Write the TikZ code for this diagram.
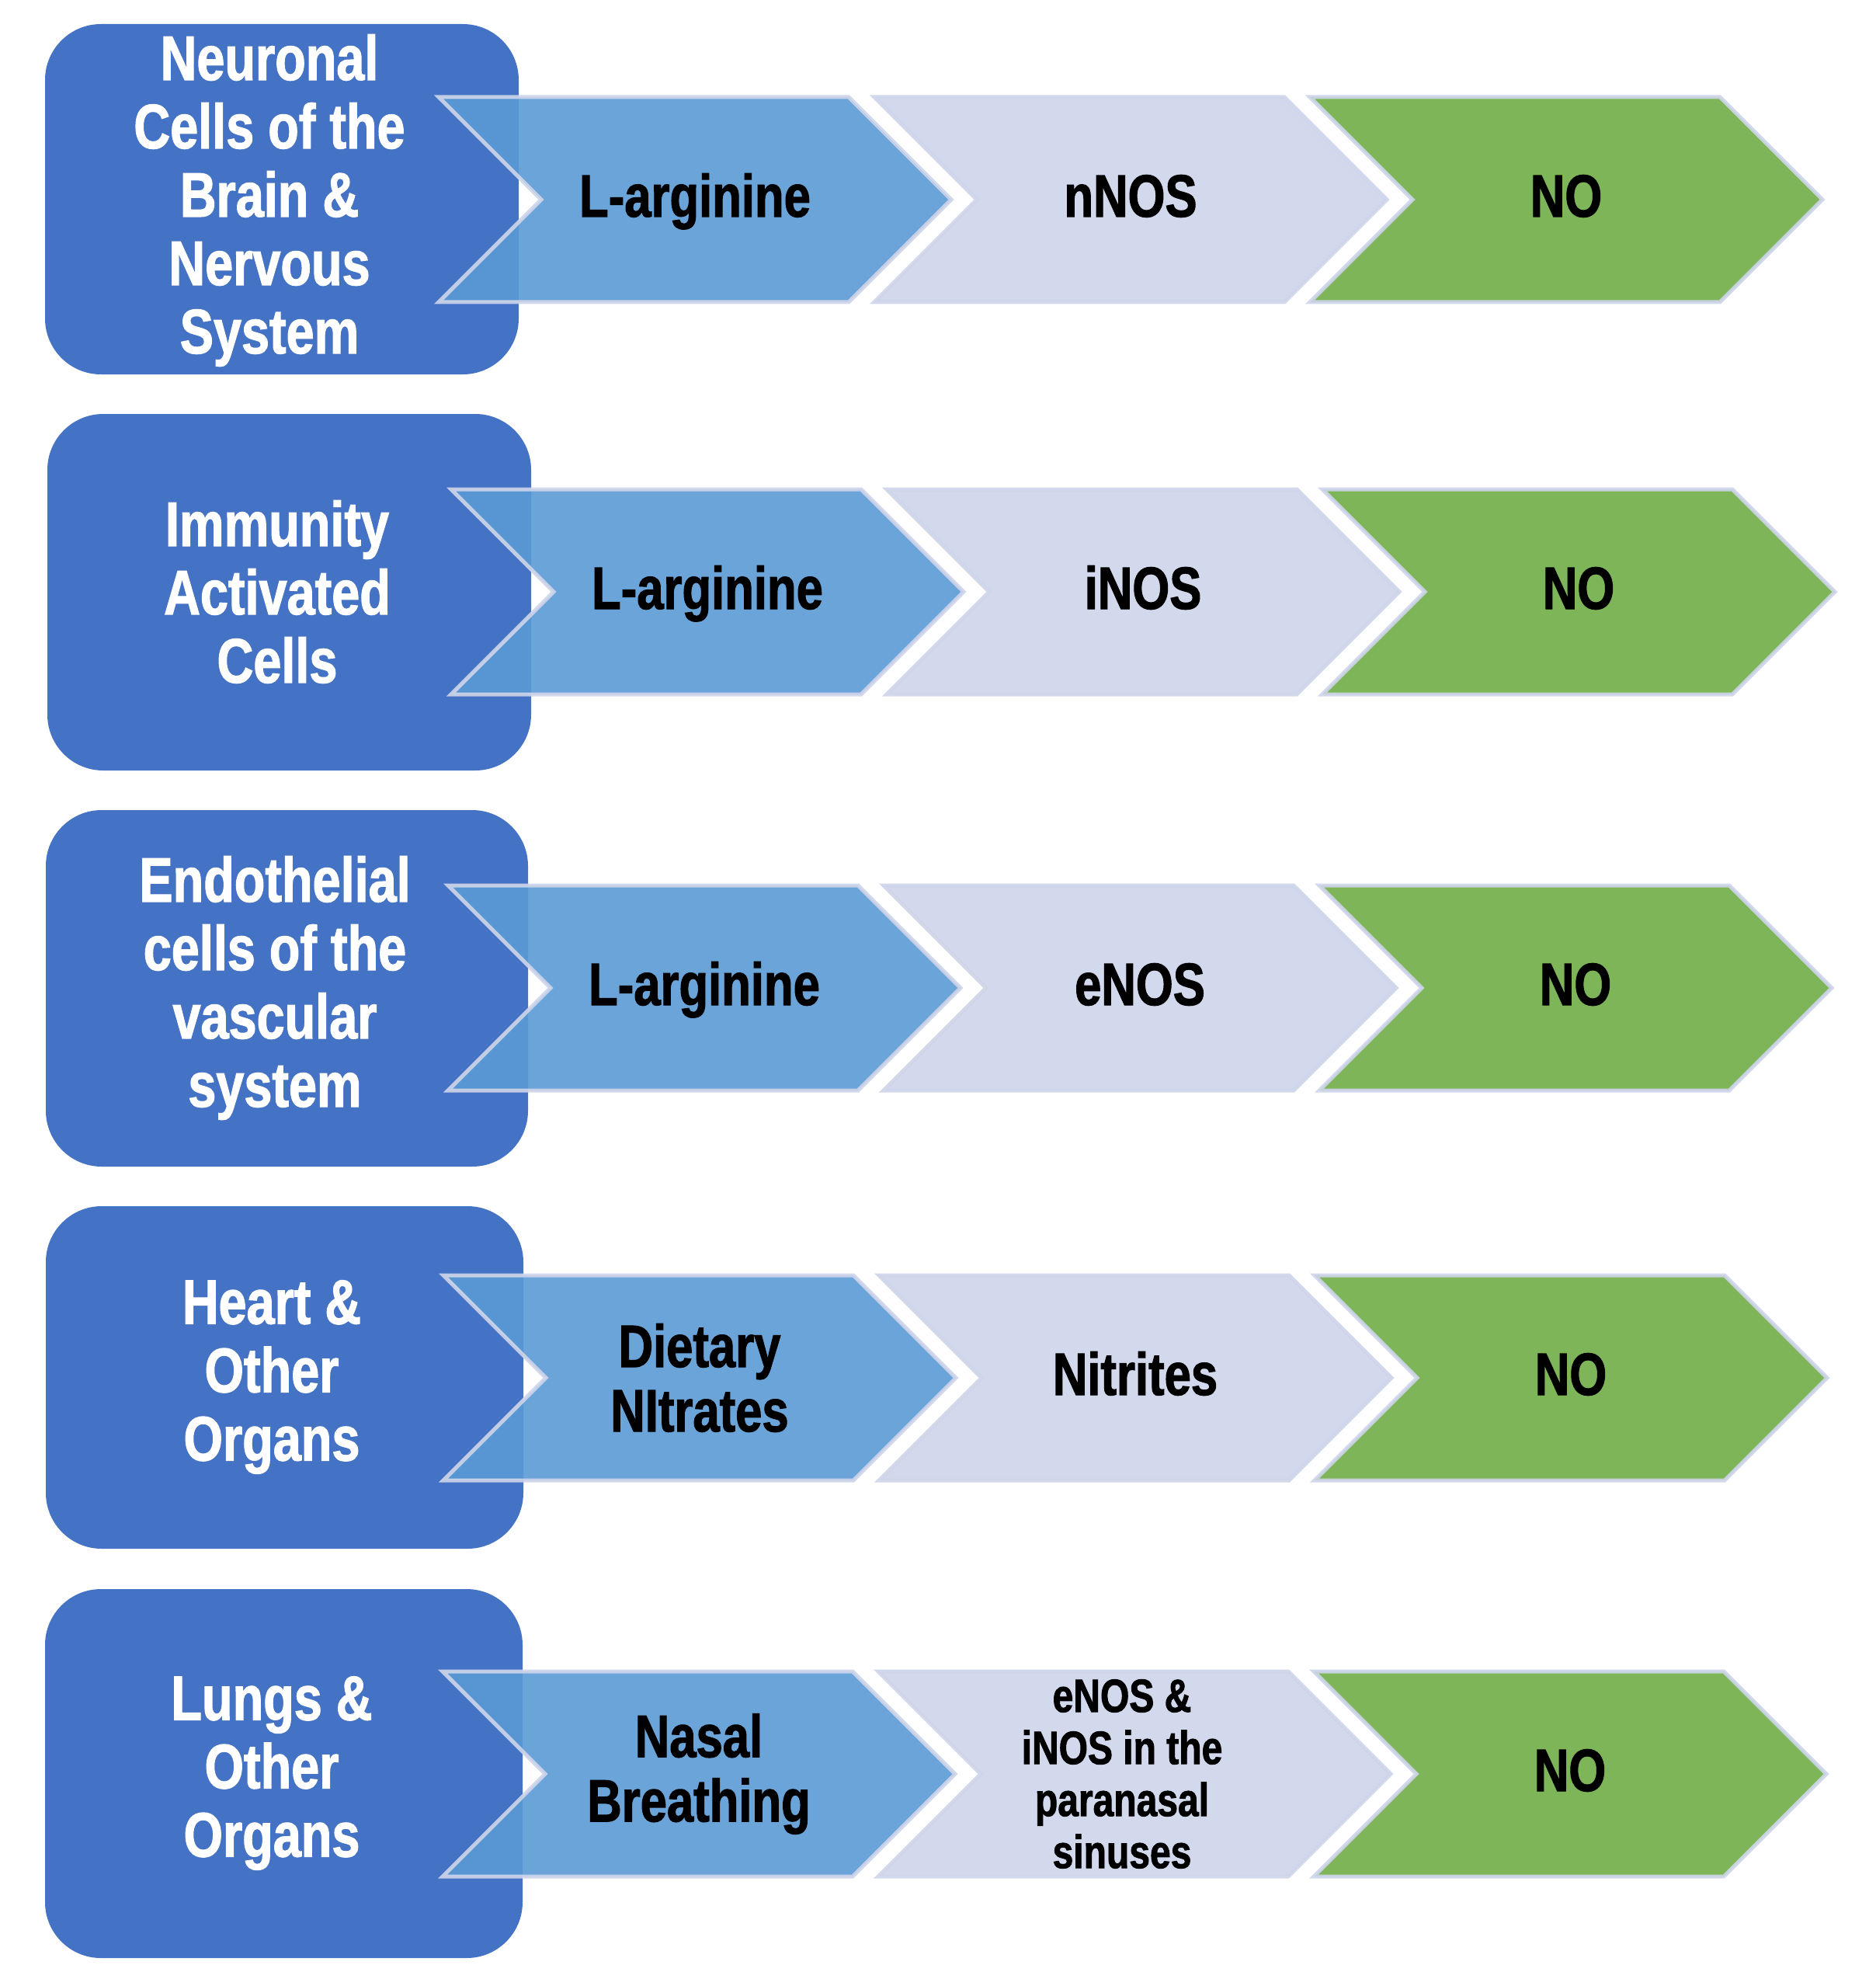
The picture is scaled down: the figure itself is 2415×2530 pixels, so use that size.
\documentclass[tikz,border=0pt]{standalone}
\usepackage{fontspec}
\setmainfont{Liberation Sans}[FakeStretch=0.8, BoldFeatures={FakeBold=1.5}]
\definecolor{boxblue}{HTML}{4472C4}
\definecolor{chevblue}{HTML}{5B9BD5}
\definecolor{chevlav}{HTML}{CFD5EA}
\definecolor{chevgreen}{HTML}{70AD47}
\definecolor{chevedge}{HTML}{CFD5EA}
\tikzset{
  cellbox/.style={fill=boxblue, draw=none, rounded corners=21.6pt},
  chevbase/.style={fill opacity=0.9, draw=chevedge, draw opacity=0.9, line width=1.5pt, line join=miter},
  chevA/.style={chevbase, fill=chevblue},
  chevB/.style={chevbase, fill=chevlav},
  chevC/.style={chevbase, fill=chevgreen},
  celltext/.style={text=white, align=center, inner sep=0pt, font=\fontsize{24.3}{26.4}\selectfont\bfseries},
  chevtext/.style={text=black, align=center, inner sep=0pt, font=\fontsize{23.1}{24.9}\selectfont\bfseries},
  oneline/.style={chevtext, anchor=base, yshift=-6.6pt},
  smalltext/.style={text=black, align=center, inner sep=0pt, font=\fontsize{18}{20.1}\selectfont\bfseries}
}
\newcommand{\mkchev}[3]{%
  \path[#1] (#2,#3-132) -- (#2+528,#3-132) -- (#2+660,#3) -- (#2+528,#3+132) -- (#2,#3+132) -- (#2+132,#3) -- cycle;}
\begin{document}
\begin{tikzpicture}[x=0.3pt,y=-0.3pt]
\useasboundingbox (0,0) rectangle (2415,2530);
\fill[white] (0,0) rectangle (2415,2530);

% left boxes
\path[cellbox] (58,31) rectangle (668,482);
\path[cellbox] (61,533) rectangle (684,992);
\path[cellbox] (59,1043) rectangle (680,1502);
\path[cellbox] (59,1553) rectangle (674,1994);
\path[cellbox] (58,2046) rectangle (673,2521);

% row 1
\mkchev{chevA}{565}{257}
\mkchev{chevB}{1126}{257}
\mkchev{chevC}{1687}{257}
% row 2
\mkchev{chevA}{581}{762}
\mkchev{chevB}{1142}{762}
\mkchev{chevC}{1703}{762}
% row 3
\mkchev{chevA}{577}{1272}
\mkchev{chevB}{1138}{1272}
\mkchev{chevC}{1699}{1272}
% row 4
\mkchev{chevA}{571}{1774}
\mkchev{chevB}{1132}{1774}
\mkchev{chevC}{1693}{1774}
% row 5
\mkchev{chevA}{570}{2284}
\mkchev{chevB}{1131}{2284}
\mkchev{chevC}{1692}{2284}

% box texts
\node[celltext] (b1) at (347,258) {Neuronal\\Cells of the\\Brain \&\\Nervous\\System};
\node[celltext] (b2) at (357,762) {Immunity\\Activated\\Cells};
\node[celltext] (b3) at (354,1272) {Endothelial\\cells of the\\vascular\\system};
\node[celltext] (b4) at (350,1773) {Heart \&\\Other\\Organs};
\node[celltext] (b5) at (350,2283) {Lungs \&\\Other\\Organs};

% chevron texts
\node[oneline] (r1a) at (895,257) {L-arginine};
\node[oneline] (r1b) at (1456,257) {nNOS};
\node[oneline] (r1c) at (2017,257) {NO};

\node[oneline] (r2a) at (911,762) {L-arginine};
\node[oneline] (r2b) at (1472,762) {iNOS};
\node[oneline] (r2c) at (2033,762) {NO};

\node[oneline] (r3a) at (907,1272) {L-arginine};
\node[oneline] (r3b) at (1468,1272) {eNOS};
\node[oneline] (r3c) at (2029,1272) {NO};

\node[chevtext] (r4a) at (901,1774) {Dietary\\NItrates};
\node[oneline] (r4b) at (1462,1774) {Nitrites};
\node[oneline] (r4c) at (2023,1774) {NO};

\node[chevtext] (r5a) at (900,2284) {Nasal\\Breathing};
\node[smalltext] (r5b) at (1445,2284) {eNOS \&\\iNOS in the\\paranasal\\sinuses};
\node[oneline] (r5c) at (2022,2284) {NO};
\end{tikzpicture}
\end{document}
